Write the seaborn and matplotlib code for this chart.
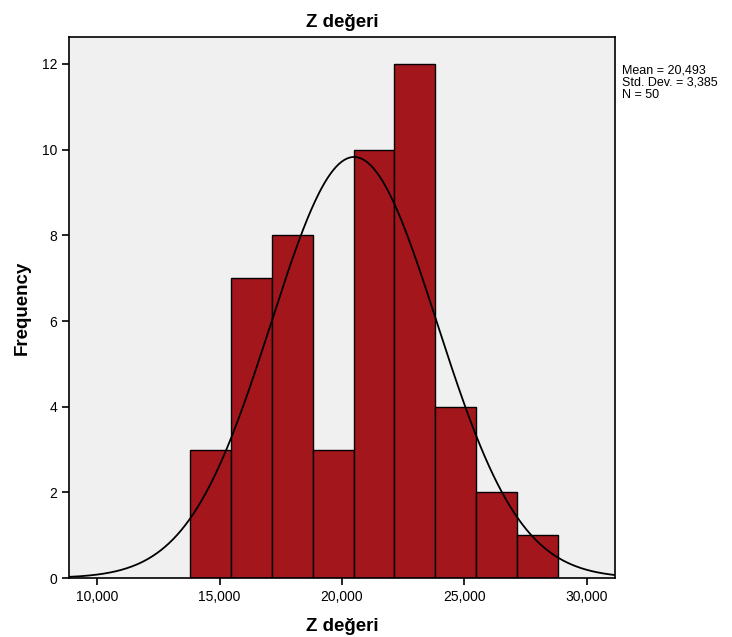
import numpy as np
import pandas as pd
import seaborn as sns
import matplotlib.pyplot as plt
from matplotlib.ticker import FuncFormatter

# histogram counts per bin
counts = [3, 7, 8, 3, 10, 12, 4, 2, 1]
bin_start = 13800
bin_width = 1668
mean_z = 20493
sd_z = 3385
n_obs = 50

x_ticks = [10000, 15000, 20000, 25000, 30000]
y_ticks = [0, 2, 4, 6, 8, 10, 12]

edges = [bin_start + bin_width * i for i in range(len(counts) + 1)]
df = pd.DataFrame({
    "z": [(edges[i] + edges[i + 1]) / 2 for i in range(len(counts))],
    "n": counts,
})

sns.set_style("white")
plt.rcParams['font.family'] = ['Liberation Sans', 'DejaVu Sans']
plt.rcParams['text.color'] = 'black'
plt.rcParams['axes.labelcolor'] = 'black'
plt.rcParams['xtick.color'] = 'black'
plt.rcParams['ytick.color'] = 'black'

fig = plt.figure(figsize=(7.32, 6.37), dpi=100)
ax = fig.add_axes([0.0943, 0.0926, 0.7459, 0.8493])
ax.set_facecolor("#F0F0F0")

sns.histplot(data=df, x="z", weights="n", bins=edges, ax=ax,
             color="#A3161B", alpha=1, edgecolor="black", linewidth=1.0)

# normal curve scaled to counts
xs = np.linspace(8850, 31150, 400)
ys = n_obs * bin_width * np.exp(-0.5 * ((xs - mean_z) / sd_z) ** 2) / (sd_z * np.sqrt(2 * np.pi))
ax.plot(xs, ys, color="black", linewidth=1.3)

ax.set_xlim(8850, 31150)
ax.set_ylim(0, 12.63)
ax.set_xticks(x_ticks)
ax.set_yticks(y_ticks)
ax.xaxis.set_major_formatter(FuncFormatter(lambda v, p: f"{int(v):,}"))
ax.tick_params(direction="out", length=5, width=1.2, labelsize=10, color="black",
               bottom=True, left=True)
for s in ax.spines.values():
    s.set_color("black")
    s.set_linewidth(1.2)

ax.set_title("Z değeri", fontsize=13.5, fontweight="bold", pad=7)
ax.set_xlabel("Z değeri", fontsize=13.5, fontweight="bold", labelpad=10)
ax.set_ylabel("Frequency", fontsize=13.5, fontweight="bold", labelpad=8)

fig.text(0.850, 0.898, f"Mean = 20,493\nStd. Dev. = 3,385\nN = {n_obs}",
         fontsize=9, va="top", ha="left", linespacing=1.0)

fig.savefig("out.png", dpi=100)
